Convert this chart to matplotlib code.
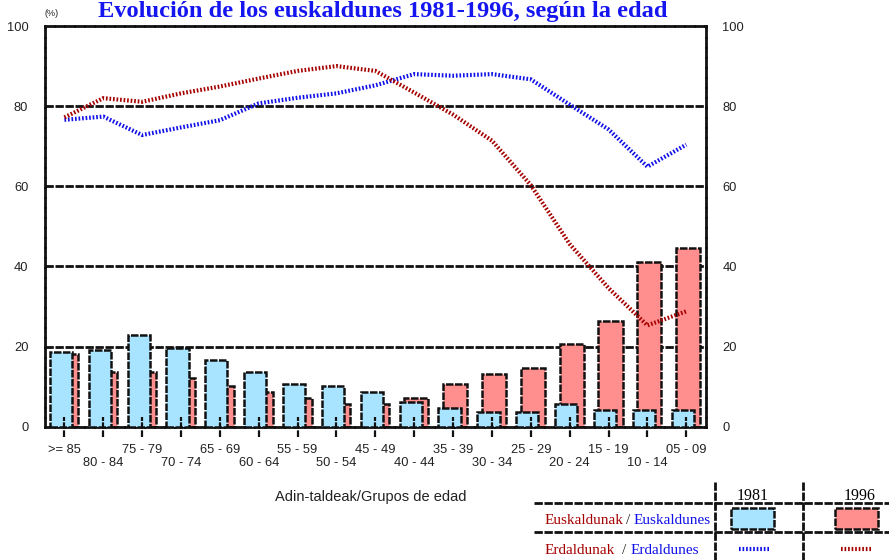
import matplotlib
matplotlib.use('Agg')
import matplotlib.pyplot as plt
from matplotlib.lines import Line2D
from matplotlib.patches import Rectangle
import numpy as np

plt.rcParams['font.family'] = ['Liberation Sans', 'DejaVu Sans']

groups = ['>= 85', '80 - 84', '75 - 79', '70 - 74', '65 - 69', '60 - 64', '55 - 59',
          '50 - 54', '45 - 49', '40 - 44', '35 - 39', '30 - 34', '25 - 29', '20 - 24',
          '15 - 19', '10 - 14', '05 - 09']
# euskaldunak (bars)
eusk_1981 = [18.6, 19.1, 23.0, 19.6, 16.6, 13.6, 10.6, 10.1, 8.6, 6.1, 4.6,
             3.6, 3.6, 5.6, 4.1, 4.1, 4.1]
eusk_1996 = [18.1, 13.6, 13.6, 12.1, 10.1, 8.6, 7.1, 5.6, 5.6, 7.1, 10.6,
             13.1, 14.6, 20.6, 26.5, 41.0, 44.5]
# erdaldunak (lines)
erda_1981 = [76.6, 77.4, 72.8, 74.7, 76.5, 80.7, 82.1, 83.2, 85.2, 88.0, 87.6,
             88.0, 86.7, 80.4, 74.2, 64.9, 70.4]
erda_1996 = [77.2, 82.0, 81.1, 83.2, 84.9, 86.9, 88.8, 90.0, 88.8, 83.4, 77.9,
             71.4, 60.3, 45.6, 34.6, 25.3, 28.8]
yticks = [0, 20, 40, 60, 80, 100]

c_blue_bar = '#A8E4FF'
c_red_bar = '#FF8E8E'
c_blue_line = '#1010E8'
c_red_line = '#A50000'
dash_k = (0, (3, 0.6))
dot = (0, (0.4, 0.45))

fig = plt.figure(figsize=(8.89, 5.6), dpi=100)
ax = fig.add_axes([0.0506, 0.2380, 0.7432, 0.7155])

x = np.arange(len(groups))
ax.bar(x + 0.05, eusk_1996, width=0.62, color=c_red_bar, edgecolor='#111111',
       linewidth=1.8, linestyle=dash_k, zorder=2)
ax.bar(x - 0.09, eusk_1981, width=0.57, color=c_blue_bar, edgecolor='#111111',
       linewidth=1.8, linestyle=dash_k, zorder=3)
ax.plot(x, erda_1981, color=c_blue_line, lw=3, linestyle=dot, zorder=5)
ax.plot(x, erda_1996, color=c_red_line, lw=3, linestyle=dot, zorder=5)

for v in yticks[1:-1]:
    ax.axhline(v, color='#111111', lw=2, linestyle=dash_k, zorder=1)

ax.set_xlim(-0.5, len(groups) - 0.5)
ax.set_ylim(0, 100)
for s in ax.spines.values():
    s.set_linestyle(dash_k)
    s.set_linewidth(2)
    s.set_color('#111111')

# tick marks crossing the base line
ax.vlines(x, -0.025, 0.025, transform=ax.get_xaxis_transform(), color='#111111',
          lw=1.6, linestyle=dash_k, clip_on=False, zorder=6)

ax.set_xticks(x)
ax.set_xticklabels([g if i % 2 == 0 else '\n' + g for i, g in enumerate(groups)],
                   fontsize=9.3, linespacing=1.1)
ax.tick_params(axis='x', length=0, pad=12.5, colors='#222222')
ax.set_yticks(yticks)
ax.set_yticklabels([str(v) for v in yticks], fontsize=9.3)
ax.tick_params(axis='y', length=0, pad=12, left=True, right=True,
               labelleft=True, labelright=True, colors='#222222')

fig.text(0.0506, 1 - 13 / 560, '(%)', fontsize=6.5, ha='left', va='center', color='#222222')
fig.text(0.4305, 1 - 17.5 / 560, 'Evolución de los euskaldunes 1981-1996, según la edad',
         family='Liberation Serif', fontweight='bold', fontsize=17.6, color='#1515F0',
         ha='center', va='baseline')
fig.text(371 / 889, 1 - 497 / 560, 'Adin-taldeak/Grupos de edad', fontsize=10.5,
         ha='center', va='center', color='#222222')

# legend table
W, H = 889, 560
def fx(px):
    return px / W
def fy(py):
    return 1 - py / H

for py in (502.7, 532.3):
    fig.add_artist(Line2D([fx(534), fx(889)], [fy(py), fy(py)], color='#111111',
                          lw=2, linestyle=dash_k))
for px in (715, 803.3):
    fig.add_artist(Line2D([fx(px), fx(px)], [fy(482), fy(560)], color='#111111',
                          lw=2, linestyle=dash_k))

serif = 'Liberation Serif'
fs = 11
fig.text(fx(753), fy(500), '1981', family=serif, fontsize=fs + 0.5, ha='center', va='baseline')
fig.text(fx(860), fy(500), '1996', family=serif, fontsize=fs + 0.5, ha='center', va='baseline')

t = fig.text(fx(545), fy(520), 'Euskaldunak', family=serif, fontsize=fs,
             color=c_red_line, ha='left', va='center')
fig.canvas.draw()
bb = t.get_window_extent()
t2 = fig.text(bb.x1 / W + 0.002, fy(520), '/', family=serif, fontsize=fs,
              ha='left', va='center', color='#222222')
bb = t2.get_window_extent()
fig.text(bb.x1 / W + 0.004, fy(520), 'Euskaldunes', family=serif, fontsize=fs,
         color=c_blue_line, ha='left', va='center')

t = fig.text(fx(545), fy(550), 'Erdaldunak', family=serif, fontsize=fs,
             color=c_red_line, ha='left', va='center')
bb = t.get_window_extent()
t2 = fig.text(bb.x1 / W + 0.008, fy(550), '/', family=serif, fontsize=fs,
              ha='left', va='center', color='#222222')
bb = t2.get_window_extent()
fig.text(bb.x1 / W + 0.004, fy(550), 'Erdaldunes', family=serif, fontsize=fs,
         color=c_blue_line, ha='left', va='center')

fig.add_artist(Rectangle((fx(730.7), fy(529)), fx(774) - fx(730.7), fy(507.7) - fy(529),
                         transform=fig.transFigure, facecolor=c_blue_bar,
                         edgecolor='#111111', lw=1.8, linestyle=dash_k))
fig.add_artist(Rectangle((fx(835), fy(529)), fx(877.7) - fx(835), fy(507.7) - fy(529),
                         transform=fig.transFigure, facecolor=c_red_bar,
                         edgecolor='#111111', lw=1.8, linestyle=dash_k))
fig.add_artist(Line2D([fx(739), fx(770)], [fy(549), fy(549)], color=c_blue_line,
                      lw=3, linestyle=dot))
fig.add_artist(Line2D([fx(841), fx(872)], [fy(549), fy(549)], color=c_red_line,
                      lw=3, linestyle=dot))

fig.savefig('out.png', dpi=100, facecolor='white')
